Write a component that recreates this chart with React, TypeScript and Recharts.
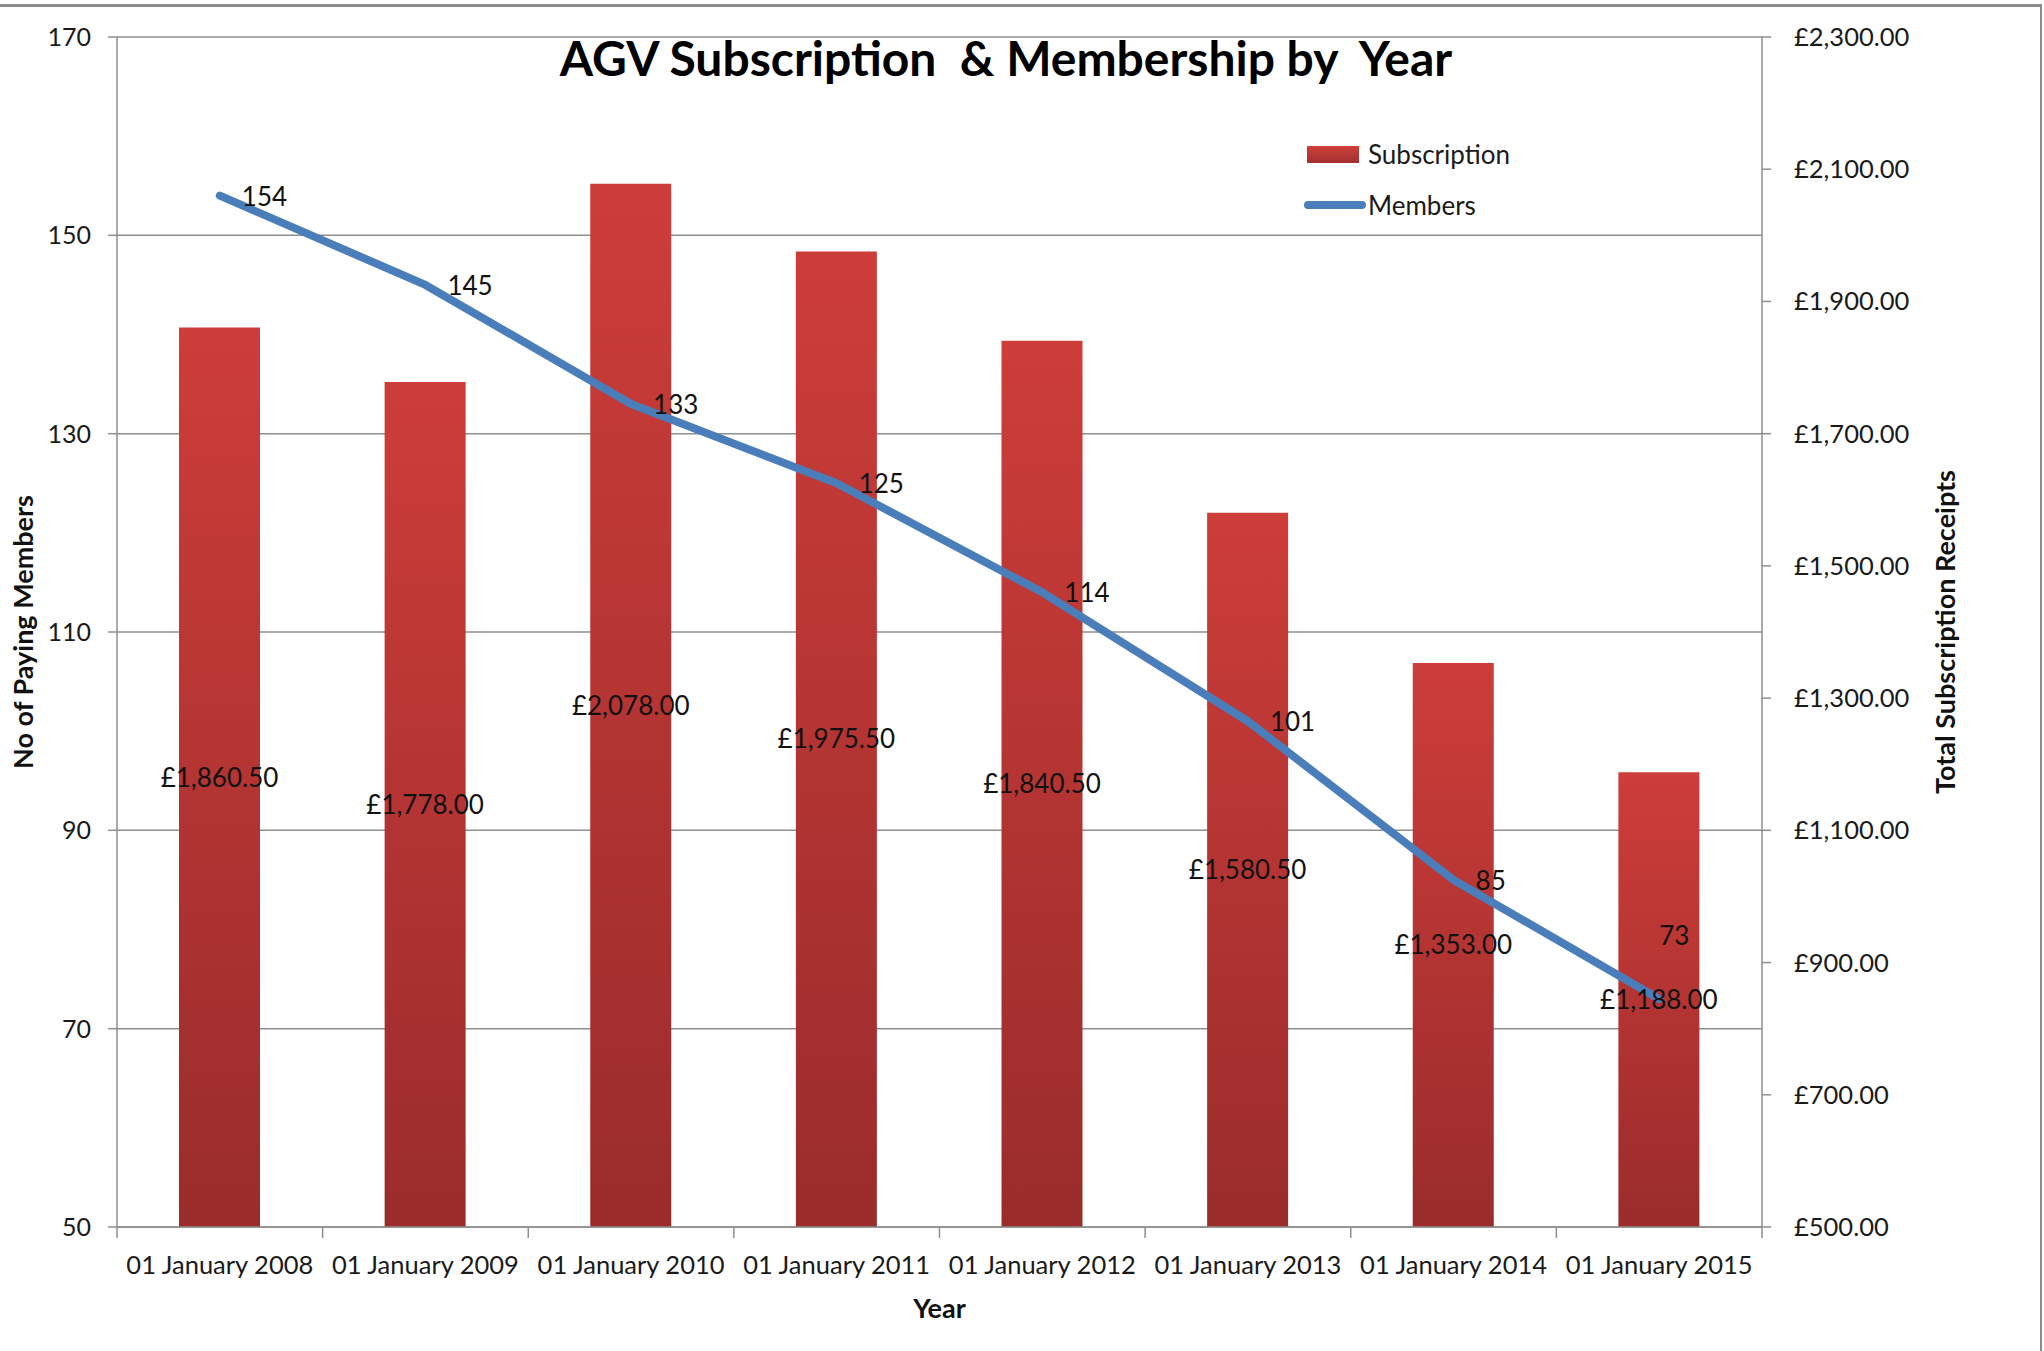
import React from "react";
import {
  ComposedChart,
  Bar,
  Line,
  XAxis,
  YAxis,
  CartesianGrid,
  Legend,
  LabelList,
} from "recharts";

const years = [
  "01 January 2008",
  "01 January 2009",
  "01 January 2010",
  "01 January 2011",
  "01 January 2012",
  "01 January 2013",
  "01 January 2014",
  "01 January 2015",
];
const subscription = [1860.5, 1778, 2078, 1975.5, 1840.5, 1580.5, 1353, 1188];
const members = [154, 145, 133, 125, 114, 101, 85, 73];
const memberTicks = [50, 70, 90, 110, 130, 150, 170];
const receiptTicks = [500, 700, 900, 1100, 1300, 1500, 1700, 1900, 2100, 2300];

const data = years.map((year, i) => ({
  year,
  subscription: subscription[i],
  members: members[i],
}));

const W = 2044;
const H = 1351;
const LEFT_W = 117;
const RIGHT_W = 282;
const TOP = 37;
const XAXIS_H = 124;
const plotW = W - LEFT_W - RIGHT_W;
const band = plotW / years.length;

const FONT = "Lato, 'Open Sans', sans-serif";
const GRID = "#8e8e8e";

const pounds = (v: number) =>
  "£" + v.toLocaleString("en-GB", { minimumFractionDigits: 2, maximumFractionDigits: 2 });

function YearTick(props: any) {
  const { x, y, payload, index } = props;
  const left = x - band / 2;
  return (
    <g>
      <line x1={left} y1={y} x2={left} y2={y + 11} stroke={GRID} strokeWidth={1.5} />
      {index === years.length - 1 && (
        <line x1={left + band} y1={y} x2={left + band} y2={y + 11} stroke={GRID} strokeWidth={1.5} />
      )}
      <text x={x} y={y + 37} textAnchor="middle" dominantBaseline="central" fontSize={25.5} fontFamily={FONT} fill="#1a1a1a">
        {payload.value}
      </text>
    </g>
  );
}

function MemberLabel(props: any) {
  const px = props.x ?? props.viewBox?.x;
  const py = props.y ?? props.viewBox?.y;
  const last = props.index === members.length - 1;
  return (
    <text
      x={last ? px : px + 22}
      y={last ? py - 64 : py}
      dominantBaseline="central"
      fontSize={26}
      fontFamily={FONT}
      fill="#111"
    >
      {props.value}
    </text>
  );
}

function LegendBox() {
  return (
    <svg width={280} height={90} style={{ display: "block" }}>
      <defs>
        <linearGradient id="legGrad" x1="0" y1="0" x2="0" y2="1">
          <stop offset="0%" stopColor="#d0403c" />
          <stop offset="100%" stopColor="#a22f2e" />
        </linearGradient>
      </defs>
      <rect x={3} y={11} width={52} height={17} fill="url(#legGrad)" />
      <text x={64} y={19} dominantBaseline="central" fontSize={26} fontFamily={FONT} fill="#1a1a1a">
        Subscription
      </text>
      <line x1={4} y1={70} x2={58} y2={70} stroke="#4a7ebb" strokeWidth={8} strokeLinecap="round" />
      <text x={64} y={70} dominantBaseline="central" fontSize={26} fontFamily={FONT} fill="#1a1a1a">
        Members
      </text>
    </svg>
  );
}

export default function App() {
  return (
    <div style={{ position: "relative", width: W, height: H, background: "#fff" }}>
      <style>{`body{margin:0}`}</style>
      <div
        style={{
          position: "absolute",
          left: 0,
          top: 4,
          width: W - 2,
          height: H - 4,
          borderTop: "3px solid #8c8c8c",
          borderRight: "2px solid #8c8c8c",
          boxSizing: "border-box",
        }}
      />
      <div
        style={{
          position: "absolute",
          left: 0,
          top: 29,
          width: 2012,
          textAlign: "center",
          fontFamily: FONT,
          fontWeight: 700,
          fontSize: 48,
          whiteSpace: "pre",
          color: "#000",
          zIndex: 2,
        }}
      >
        {"AGV Subscription  & Membership by  Year"}
      </div>
      <div style={{ position: "absolute", left: 0, top: 0 }}>
        <ComposedChart
          width={W}
          height={H}
          data={data}
          margin={{ top: TOP, right: 0, bottom: 0, left: 0 }}
        >
          <defs>
            <linearGradient id="barGrad" x1="0" y1="0" x2="0" y2="1">
              <stop offset="0%" stopColor="#cd3d39" />
              <stop offset="100%" stopColor="#9a2c2c" />
            </linearGradient>
          </defs>
          <CartesianGrid vertical={false} stroke={GRID} strokeWidth={1.5} />
          <XAxis
            dataKey="year"
            height={XAXIS_H}
            axisLine={{ stroke: GRID, strokeWidth: 1.5 }}
            tickLine={false}
            tickSize={0}
            tickMargin={0}
            interval={0}
            tick={<YearTick />}
            label={{
              value: "Year",
              position: "insideBottom",
              offset: 33,
              fontSize: 27,
              fontWeight: 700,
              fontFamily: FONT,
              fill: "#111",
            }}
          />
          <YAxis
            yAxisId={0}
            width={LEFT_W}
            domain={[50, 170]}
            ticks={memberTicks}
            interval={0}
            axisLine={{ stroke: GRID, strokeWidth: 1.5 }}
            tickLine={{ stroke: GRID, strokeWidth: 1.5 }}
            tickSize={9}
            tickMargin={17}
            tick={{ fontSize: 25, fontFamily: FONT, fill: "#1a1a1a" }}
            label={{
              value: "No of Paying  Members",
              angle: -90,
              position: "center",
              dx: -35,
              fontSize: 27,
              fontWeight: 700,
              fontFamily: FONT,
              fill: "#111",
              style: { whiteSpace: "pre" },
            }}
          />
          <YAxis
            yAxisId="right"
            orientation="right"
            width={RIGHT_W}
            domain={[500, 2300]}
            ticks={receiptTicks}
            interval={0}
            tickFormatter={pounds}
            axisLine={{ stroke: GRID, strokeWidth: 1.5 }}
            tickLine={{ stroke: GRID, strokeWidth: 1.5 }}
            tickSize={9}
            tickMargin={23}
            tick={{ fontSize: 25.5, fontFamily: FONT, fill: "#1a1a1a" }}
            label={{
              value: "Total Subscription Receipts",
              angle: -90,
              position: "center",
              dx: 42,
              fontSize: 27,
              fontWeight: 700,
              fontFamily: FONT,
              fill: "#111",
            }}
          />
          <Legend
            layout="vertical"
            align="center"
            verticalAlign="middle"
            content={() => <LegendBox />}
            wrapperStyle={{ left: 1304, top: 135, width: 280 }}
          />
          <Bar
            yAxisId="right"
            dataKey="subscription"
            name="Subscription"
            barSize={81}
            fill="url(#barGrad)"
            isAnimationActive={false}
          >
            <LabelList
              dataKey="subscription"
              position="center"
              formatter={(v: any) => pounds(Number(v))}
              fontSize={26}
              fontFamily={FONT}
              fill="#111"
            />
          </Bar>
          <Line
            yAxisId={0}
            dataKey="members"
            name="Members"
            type="linear"
            stroke="#4a7ebb"
            strokeWidth={8}
            strokeLinecap="round"
            strokeLinejoin="round"
            dot={false}
            activeDot={false}
            isAnimationActive={false}
          >
            <LabelList dataKey="members" content={<MemberLabel />} />
          </Line>
        </ComposedChart>
      </div>
    </div>
  );
}
